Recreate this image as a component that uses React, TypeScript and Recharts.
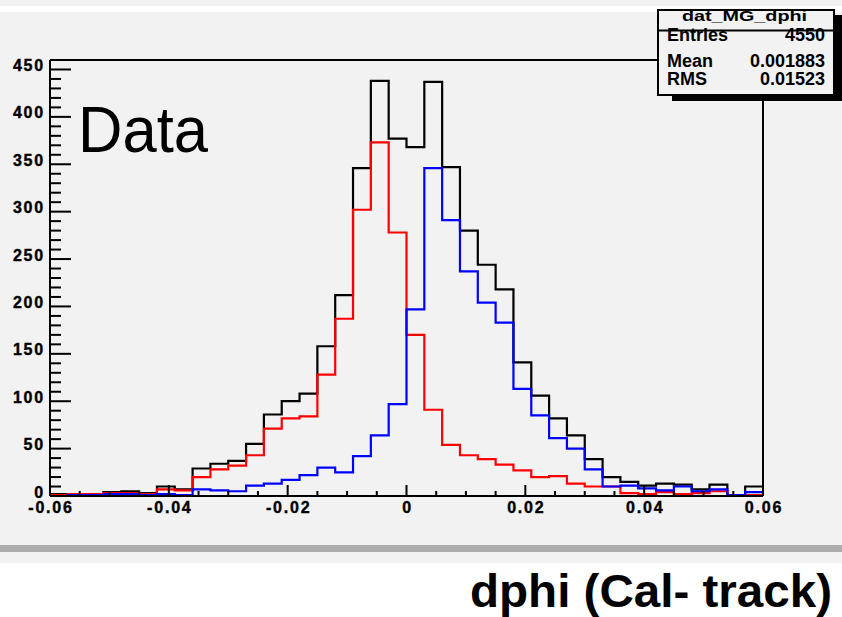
import React from 'react'
import { LineChart, Line, XAxis, YAxis, ReferenceLine } from 'recharts'

// histogram binning (40 bins between -0.06 and 0.06)
const binLow = -0.06
const binWidth = 0.003

// black: all entries, red / blue: the two components
const totalCounts = [2, 2, 2, 4, 5, 3, 10, 7, 29, 34, 37, 55, 86, 100, 108, 158, 212, 346, 438, 377, 368, 437, 347, 280, 244, 218, 141, 106, 82, 64, 39, 20, 15, 11, 13, 12, 7, 12, 1, 10]
const redCounts = [1, 2, 2, 3, 3, 2, 7, 6, 20, 28, 32, 43, 71, 82, 84, 128, 187, 302, 373, 278, 170, 91, 54, 43, 39, 33, 27, 20, 21, 13, 10, 10, 3, 2, 4, 2, 3, 5, 0, 1]
const blueCounts = [0, 1, 1, 2, 2, 1, 2, 1, 7, 6, 5, 11, 13, 17, 22, 30, 25, 42, 64, 97, 197, 346, 291, 237, 204, 183, 113, 85, 61, 50, 28, 10, 11, 8, 6, 10, 5, 7, 1, 4]

const xTicks = [-0.06, -0.055, -0.05, -0.045, -0.04, -0.035, -0.03, -0.025, -0.02, -0.015, -0.01, -0.005, 0, 0.005, 0.01, 0.015, 0.02, 0.025, 0.03, 0.035, 0.04, 0.045, 0.05, 0.055, 0.06]
const xMajorTicks = [-0.06, -0.04, -0.02, 0, 0.02, 0.04, 0.06]
const xMajorLabels = ['-0.06', '-0.04', '-0.02', '0', '0.02', '0.04', '0.06']
const yMajorTicks = [0, 50, 100, 150, 200, 250, 300, 350, 400, 450]
const yTicks = Array.from({ length: 47 }, (_, i) => i * 10)

const histName = 'dat_MG_dphi'
const statLabels = ['Entries', 'Mean', 'RMS']
const statValues = ['4550', '0.001883', '0.01523']

const W = 842
const H = 617
const LEFT = 50
const RIGHT = 763
const TOP = 60
const BOTTOM = 496

const tickFont = { fontFamily: '"Liberation Sans", Arial, sans-serif', fontWeight: 700, fontSize: 16, letterSpacing: 1.8 }

// step outline: one point per bin low edge plus the final upper edge
const data = Array.from({ length: totalCounts.length + 1 }, (_, i) => {
  const k = Math.min(i, totalCounts.length - 1)
  return { x: binLow + i * binWidth, total: totalCounts[k], red: redCounts[k], blue: blueCounts[k] }
})

function XTick(props: any) {
  const { x, payload } = props
  const idx = xMajorTicks.findIndex(t => Math.abs(t - payload.value) < 1e-9)
  const major = idx >= 0
  return (
    <g>
      <line x1={x} x2={x} y1={BOTTOM} y2={BOTTOM - (major ? 11 : 5)} stroke="#000" strokeWidth={2} />
      {major && (
        <text x={x + 1} y={BOTTOM + 17} textAnchor="middle" fill="#000" stroke="#000" strokeWidth={0.4} style={tickFont}>
          {xMajorLabels[idx]}
        </text>
      )}
    </g>
  )
}

function YTick(props: any) {
  const { y, payload } = props
  const major = yMajorTicks.includes(payload.value)
  return (
    <g>
      <line x1={LEFT} x2={LEFT + (major ? 21 : 11)} y1={y} y2={y} stroke="#000" strokeWidth={2} />
      {major && (
        <text x={45} y={y + 1.5} textAnchor="end" fill="#000" stroke="#000" strokeWidth={0.4} style={tickFont}>
          {payload.value}
        </text>
      )}
    </g>
  )
}

export default function App() {
  return (
    <div style={{ position: 'absolute', left: 0, top: 0, width: W, height: H, background: '#fff', overflow: 'hidden' }}>
      <div style={{ position: 'absolute', left: 0, top: 0, width: W, height: 6, background: '#f2f2f2' }} />
      <div style={{ position: 'absolute', left: 0, top: 12, width: W, height: 533, background: '#f2f2f2' }} />
      <div style={{ position: 'absolute', left: 0, top: 545, width: W, height: 7, background: '#adadad' }} />
      <div style={{ position: 'absolute', left: 0, top: 552, width: W, height: 11, background: '#f2f2f2' }} />

      <div style={{ position: 'absolute', left: 0, top: 0 }}>
        <LineChart width={W} height={H} data={data} margin={{ top: TOP, right: W - RIGHT, bottom: 0, left: 0 }}>
          <XAxis
            dataKey="x"
            type="number"
            domain={[-0.06, 0.06]}
            ticks={xTicks}
            interval={0}
            height={H - BOTTOM}
            tickLine={false}
            tick={<XTick />}
            axisLine={{ stroke: '#000', strokeWidth: 2 }}
            allowDataOverflow
          />
          <YAxis
            type="number"
            domain={[0, 460]}
            ticks={yTicks}
            interval={0}
            width={LEFT}
            tickLine={false}
            tick={<YTick />}
            axisLine={{ stroke: '#000', strokeWidth: 2 }}
            allowDataOverflow
          />
          <ReferenceLine y={460} stroke="#000" strokeWidth={2} />
          <ReferenceLine x={0.06} stroke="#000" strokeWidth={2} />
          <Line type="stepAfter" dataKey="total" stroke="#000" strokeWidth={2.2} dot={false} activeDot={false} isAnimationActive={false} />
          <Line type="stepAfter" dataKey="red" stroke="#ff0000" strokeWidth={2.2} dot={false} activeDot={false} isAnimationActive={false} />
          <Line type="stepAfter" dataKey="blue" stroke="#0000ff" strokeWidth={2.2} dot={false} activeDot={false} isAnimationActive={false} />
        </LineChart>
      </div>

      <svg width={W} height={H} style={{ position: 'absolute', left: 0, top: 0, pointerEvents: 'none' }}>
        <text x={78} y={152} textLength={130} lengthAdjust="spacingAndGlyphs" fill="#000"
          style={{ fontFamily: '"Liberation Sans", Arial, sans-serif', fontSize: 64 }}>
          Data
        </text>

        {/* stats box */}
        <rect x={672} y={15} width={170} height={86} fill="#000" />
        <rect x={658} y={10} width={176} height={85} fill="#f2f2f2" stroke="#000" strokeWidth={2} />
        <text x={682} y={21} textLength={125} lengthAdjust="spacingAndGlyphs" fill="#000"
          style={{ fontFamily: '"Liberation Sans", Arial, sans-serif', fontWeight: 700, fontSize: 14 }}>
          {histName}
        </text>
        {statLabels.map((lab, i) => (
          <g key={lab}>
            <text x={667} y={41 + i * 18.5 + (i > 0 ? 7 : 0)} fill="#000"
              style={{ fontFamily: '"Liberation Sans", Arial, sans-serif', fontWeight: 700, fontSize: 18 }}>
              {lab}
            </text>
            <text x={825} y={41 + i * 18.5 + (i > 0 ? 7 : 0)} textAnchor="end" fill="#000"
              style={{ fontFamily: '"Liberation Sans", Arial, sans-serif', fontWeight: 700, fontSize: 18 }}>
              {statValues[i]}
            </text>
          </g>
        ))}
        <line x1={658} x2={834} y1={30.5} y2={30.5} stroke="#000" strokeWidth={2} />

        <text x={470} y={607} textLength={362} lengthAdjust="spacingAndGlyphs" fill="#000"
          style={{ fontFamily: '"Liberation Sans", Arial, sans-serif', fontWeight: 700, fontSize: 46 }}>
          dphi (Cal- track)
        </text>
      </svg>
    </div>
  )
}
